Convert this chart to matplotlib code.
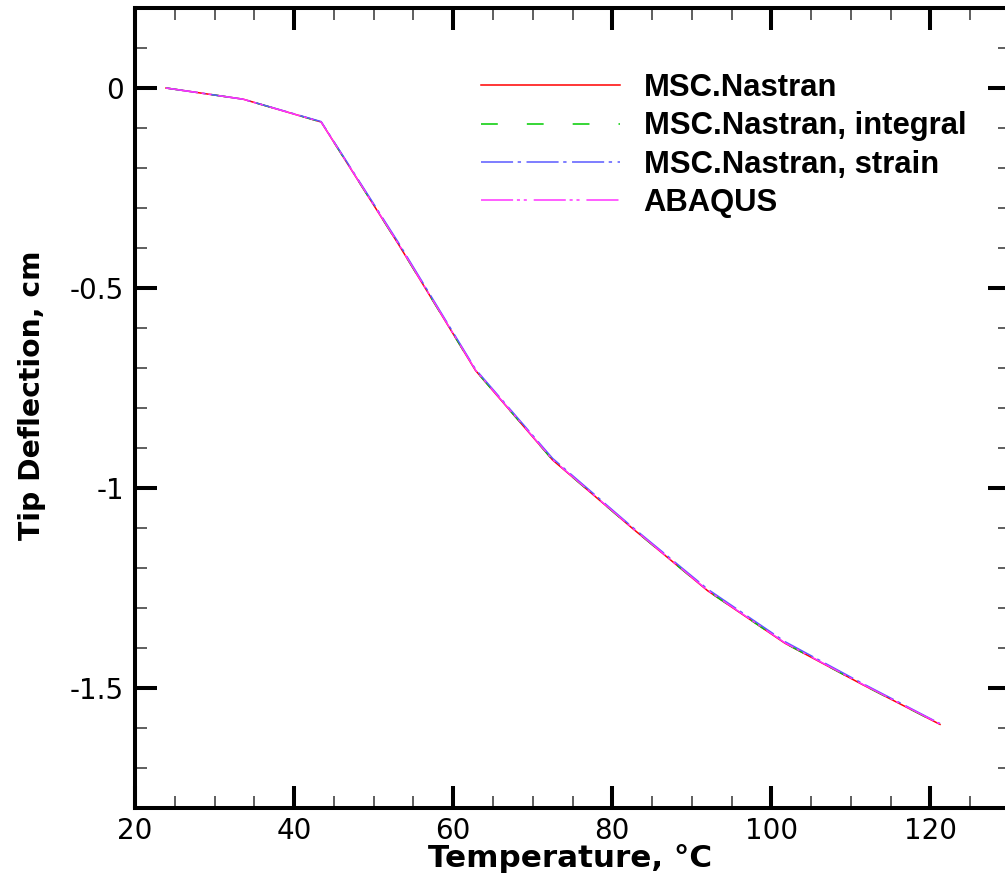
import numpy as np
import matplotlib
matplotlib.use("Agg")
import matplotlib.pyplot as plt

# Temperature (deg C) and tip deflection (cm)
temperature = [23.9, 33.6, 43.4, 53.1, 62.8, 72.5, 82.3, 92.0, 101.7, 111.5, 121.2]
nastran = [0.0, -0.028, -0.085, -0.390, -0.706, -0.930, -1.097, -1.257, -1.388, -1.492, -1.591]
nastran_integral = [0.0, -0.028, -0.085, -0.390, -0.706, -0.930, -1.097, -1.257, -1.388, -1.492, -1.591]
nastran_strain = [0.0, -0.028, -0.084, -0.386, -0.703, -0.926, -1.094, -1.253, -1.384, -1.489, -1.589]
abaqus = [0.0, -0.028, -0.085, -0.389, -0.705, -0.929, -1.096, -1.256, -1.387, -1.491, -1.590]

series_labels = ['MSC.Nastran', 'MSC.Nastran, integral', 'MSC.Nastran, strain', 'ABAQUS']

fig = plt.figure(figsize=(10.05, 8.88), dpi=100)
ax = fig.add_axes([135 / 1005, 1 - 808 / 888, 875 / 1005, 800 / 888])

# line styles: solid, dashed, dash-dot, dash-dot-dot
ax.plot(temperature, nastran, color='#ff0000', lw=1.1, label=series_labels[0])
ax.plot(temperature, nastran_integral, color='#00cc00', lw=1.1,
        dashes=(11, 19), label=series_labels[1])
ax.plot(temperature, nastran_strain, color='#5a5aff', lw=1.1,
        dashes=(21, 3, 2.2, 3.6), label=series_labels[2])
ax.plot(temperature, abaqus, color='#ff33ff', lw=1.1,
        dashes=(21, 2.5, 2, 2.5, 2, 4.5), label=series_labels[3])

ax.set_xlim(20, 130)
ax.set_ylim(-1.8, 0.2)
ax.set_xticks([20, 40, 60, 80, 100, 120])
ax.set_xticks(np.arange(20, 131, 5), minor=True)
ax.set_yticks([-1.5, -1, -0.5, 0])
ax.set_yticklabels(['-1.5', '-1', '-0.5', '0'])
ax.set_yticks(np.arange(-1.8, 0.21, 0.1), minor=True)

for s in ax.spines.values():
    s.set_linewidth(2.9)

ax.tick_params(which='both', direction='in', top=True, right=True)
ax.tick_params(which='major', length=16, width=2.9, labelsize=20, pad=8)
ax.tick_params(axis='x', which='major', pad=6.5)
ax.tick_params(which='minor', length=8.6, width=1.1, color='#333333')
for lab in ax.get_xticklabels() + ax.get_yticklabels():
    lab.set_family('DejaVu Sans')

ax.set_xlabel('Temperature, °C', fontsize=22.3, fontweight='bold', family='DejaVu Sans')
ax.xaxis.label.set_va('baseline')
ax.xaxis.set_label_coords(0.497, -0.074)
ax.set_ylabel('Tip Deflection, cm', fontsize=20.3, fontweight='bold', family='DejaVu Sans')
ax.yaxis.label.set_va('center')
ax.yaxis.set_label_coords(-0.118, 0.516)

leg = ax.legend(loc='upper left', bbox_to_anchor=(481 / 1005, 1 - 73 / 888),
                bbox_transform=fig.transFigure, frameon=False,
                prop={'family': 'Liberation Sans', 'weight': 'bold', 'size': 22.3},
                handlelength=4.5, handletextpad=0.75, labelspacing=0.27,
                borderpad=0, borderaxespad=0)

fig.savefig('out.png', dpi=100, facecolor='white')
